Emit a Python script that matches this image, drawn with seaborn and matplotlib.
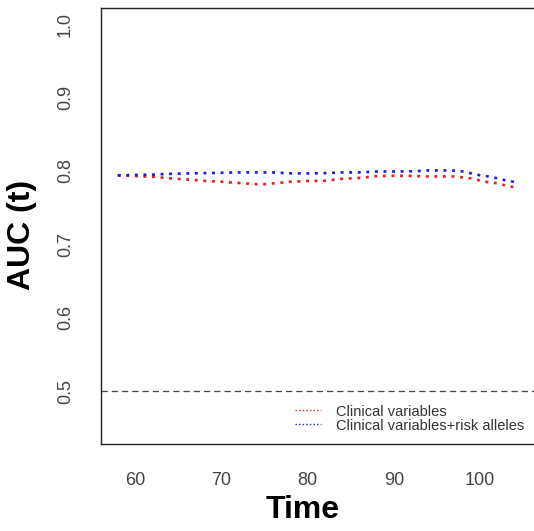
import matplotlib
matplotlib.use("Agg")
import matplotlib.pyplot as plt
from matplotlib.lines import Line2D
import numpy as np
import pandas as pd
import seaborn as sns

# Time points at which time-dependent AUC was evaluated
time = [58, 60, 62, 64, 66, 68, 70, 72, 74, 75, 76, 78, 80, 82, 84, 86, 88,
        90, 92, 94, 96, 97, 98, 99, 100, 101, 102, 103, 104.3]

# AUC(t) for the clinical-only model
auc_clinical = [0.794, 0.793, 0.792, 0.790, 0.7884, 0.7866, 0.7853, 0.7836,
                0.782, 0.782, 0.783, 0.7853, 0.7863, 0.7866, 0.7893, 0.7905,
                0.793, 0.7934, 0.7932, 0.7925, 0.7925, 0.7925, 0.7911, 0.7898,
                0.7868, 0.7845, 0.7832, 0.780, 0.777]

# AUC(t) for the clinical + risk alleles model
auc_combined = [0.794, 0.7945, 0.795, 0.796, 0.7966, 0.797, 0.7975, 0.798,
                0.798, 0.798, 0.798, 0.7968, 0.7966, 0.797, 0.798, 0.798,
                0.7993, 0.7993, 0.7995, 0.8007, 0.8007, 0.8005, 0.7993, 0.7966,
                0.794, 0.7925, 0.790, 0.787, 0.7843]

series_names = ["Clinical variables", "Clinical variables+risk alleles"]
series_colors = ["#ee1a1a", "#1a1ae0"]

x_ticks = [60, 70, 80, 90, 100]
y_ticks = [0.5, 0.6, 0.7, 0.8, 0.9, 1.0]
reference_auc = 0.5

df = pd.DataFrame({
    "Time": time * 2,
    "AUC": auc_clinical + auc_combined,
    "Model": [series_names[0]] * len(time) + [series_names[1]] * len(time),
})

sns.set_style("white")
plt.rcParams["font.family"] = ["Liberation Sans", "DejaVu Sans"]

W, H = 534, 531
fig = plt.figure(figsize=(W / 100, H / 100), dpi=100)
left, right, bottom, top = 101, 535, 444, 8
ax = fig.add_axes([left / W, (H - bottom) / H, (right - left) / W, (bottom - top) / H])

dot = (0, (1.1, 2.15))
for name, color in zip(series_names, series_colors):
    sns.lineplot(data=df[df["Model"] == name], x="Time", y="AUC", ax=ax,
                 color=color, linewidth=1.9, linestyle=dot, legend=False)

ax.axhline(reference_auc, color="#444444", linewidth=0.9, linestyle=(0, (5.0, 3.2)))

ax.set_xlim(56.06, 106.35)
ax.set_ylim(0.428, 1.022)
ax.set_xticks(x_ticks)
ax.set_xticklabels([str(t) for t in x_ticks])
ax.set_yticks(y_ticks)
ax.set_yticklabels([f"{v:.1f}" for v in y_ticks])

for side in ["left", "bottom", "top"]:
    ax.spines[side].set_color("#222222")
    ax.spines[side].set_linewidth(1.0)
ax.spines["right"].set_visible(False)

ax.tick_params(axis="both", which="major", length=7.5, width=1.0, color="#333333",
               labelsize=13, labelcolor="#444444", direction="out")
ax.tick_params(axis="x", pad=13)
ax.tick_params(axis="y", pad=12, labelrotation=90)
for lab in ax.get_yticklabels():
    lab.set_va("center")

ax.set_xlabel("Time", fontsize=23, fontweight="bold", va="center", color="black")
ax.xaxis.set_label_coords((303 - left) / (right - left), -(510 - bottom) / (bottom - top))
ax.set_ylabel("AUC (t)", fontsize=23, fontweight="bold", va="center", color="black")
ax.yaxis.set_label_coords(-(left - 22) / (right - left), (bottom - 235) / (bottom - top))

handles = [Line2D([], [], color=c, linewidth=1.0, linestyle=(0, (1, 1.6)))
           for c in series_colors]
leg = ax.legend(handles, series_names, loc="center left", frameon=False,
                bbox_to_anchor=((295 - left) / (right - left), (bottom - 418.5) / (bottom - top)),
                borderaxespad=0, borderpad=0, fontsize=10.5, handlelength=1.8,
                handletextpad=1.0, labelspacing=0.0)
for txt in leg.get_texts():
    txt.set_color("#333333")

fig.savefig("out.png", dpi=100)
